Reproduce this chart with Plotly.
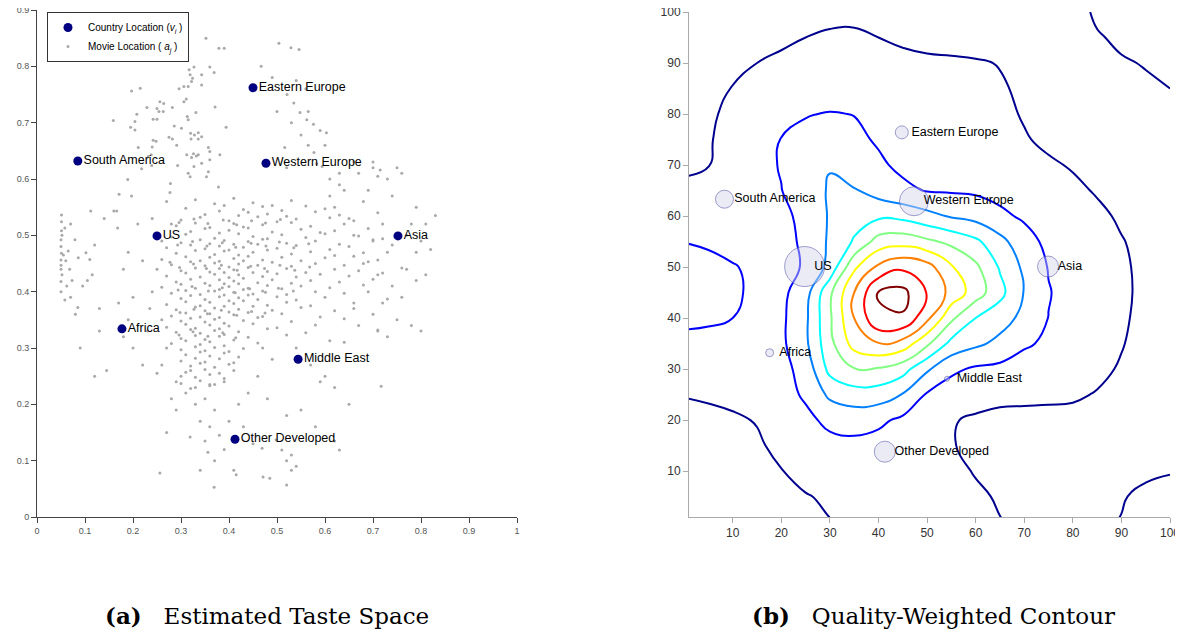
import plotly.graph_objects as go

# ---------------- Panel (a) data ----------------
country_names = ["Eastern Europe", "South America", "Western Europe", "US",
                 "Asia", "Africa", "Middle East", "Other Developed"]
country_x = [0.450, 0.085, 0.477, 0.250, 0.752, 0.177, 0.544, 0.4125]
country_y = [0.762, 0.632, 0.628, 0.499, 0.499, 0.334, 0.280, 0.138]

movie_points = [
    # upper-left arm
    (0.352, 0.850), (0.379, 0.832), (0.390, 0.832), (0.317, 0.794), (0.327, 0.799),
    (0.319, 0.785), (0.324, 0.779), (0.322, 0.773), (0.343, 0.785), (0.360, 0.799),
    (0.369, 0.789), (0.343, 0.767), (0.315, 0.764), (0.296, 0.760), (0.306, 0.764),
    (0.306, 0.737), (0.311, 0.742), (0.197, 0.756), (0.215, 0.761), (0.256, 0.737),
    (0.264, 0.734), (0.250, 0.725), (0.254, 0.720), (0.263, 0.720), (0.229, 0.727),
    (0.208, 0.715), (0.204, 0.702), (0.195, 0.692), (0.204, 0.687), (0.159, 0.704),
    (0.242, 0.706), (0.250, 0.706), (0.282, 0.727), (0.331, 0.718), (0.371, 0.728),
    (0.394, 0.692), (0.313, 0.711), (0.315, 0.705), (0.286, 0.694), (0.301, 0.690),
    (0.320, 0.681), (0.328, 0.678), (0.336, 0.682), (0.343, 0.675), (0.321, 0.671),
    (0.336, 0.671), (0.275, 0.674), (0.282, 0.671), (0.242, 0.669), (0.248, 0.667),
    (0.240, 0.657), (0.211, 0.656), (0.291, 0.660), (0.357, 0.656), (0.360, 0.649),
    (0.326, 0.645), (0.332, 0.641), (0.336, 0.643), (0.312, 0.643), (0.322, 0.638),
    (0.232, 0.640), (0.238, 0.643), (0.381, 0.643), (0.360, 0.634), (0.343, 0.628),
    (0.327, 0.622), (0.293, 0.624), (0.239, 0.624), (0.218, 0.618), (0.315, 0.610),
    (0.319, 0.604), (0.357, 0.613), (0.353, 0.604), (0.189, 0.599), (0.278, 0.592),
    (0.378, 0.586), (0.277, 0.576), (0.197, 0.570), (0.171, 0.573), (0.112, 0.543),
    (0.166, 0.543), (0.168, 0.513),
    # upper-right arm
    (0.504, 0.841), (0.529, 0.833), (0.546, 0.830), (0.467, 0.800), (0.540, 0.775),
    (0.521, 0.750), (0.535, 0.735), (0.548, 0.718), (0.565, 0.720), (0.562, 0.705),
    (0.576, 0.697), (0.590, 0.686), (0.603, 0.682), (0.550, 0.678), (0.565, 0.660),
    (0.516, 0.656), (0.577, 0.647), (0.594, 0.622), (0.583, 0.627), (0.610, 0.600),
    (0.700, 0.620), (0.710, 0.605), (0.660, 0.630), (0.530, 0.700), (0.500, 0.720),
    (0.560, 0.760), (0.490, 0.780), (0.520, 0.620), (0.600, 0.660), (0.630, 0.590),
    # left strip
    (0.051, 0.536), (0.051, 0.524), (0.051, 0.508), (0.052, 0.500), (0.050, 0.492),
    (0.050, 0.480), (0.051, 0.468), (0.050, 0.456), (0.050, 0.447), (0.050, 0.440),
    (0.052, 0.430), (0.050, 0.418), (0.050, 0.400), (0.055, 0.465), (0.060, 0.455),
    (0.058, 0.513), (0.065, 0.472), (0.070, 0.520), (0.068, 0.440), (0.079, 0.492),
    (0.073, 0.420), (0.062, 0.410), (0.080, 0.360), (0.085, 0.372), (0.095, 0.410),
    (0.102, 0.469), (0.105, 0.420), (0.090, 0.300), (0.120, 0.250), (0.145, 0.260),
    (0.120, 0.483), (0.130, 0.370), (0.115, 0.430), (0.070, 0.390), (0.058, 0.385),
    (0.086, 0.460), (0.110, 0.457),
    # scattered left-centre
    (0.160, 0.543), (0.190, 0.470), (0.210, 0.520), (0.220, 0.455), (0.180, 0.440),
    (0.200, 0.390), (0.235, 0.370), (0.170, 0.380), (0.180, 0.320), (0.200, 0.300),
    (0.230, 0.330), (0.240, 0.400), (0.250, 0.440), (0.260, 0.350), (0.270, 0.300),
    (0.220, 0.270), (0.250, 0.255), (0.190, 0.350), (0.260, 0.490), (0.240, 0.530),
    (0.270, 0.560), (0.280, 0.520), (0.140, 0.530), (0.130, 0.330), (0.277, 0.452),
    # central cloud
    (0.33, 0.563), (0.37, 0.556), (0.41, 0.566), (0.45, 0.558), (0.49, 0.553), (0.53, 0.562),
    (0.31, 0.548), (0.39, 0.553), (0.43, 0.546), (0.47, 0.551), (0.51, 0.544), (0.56, 0.552),
    (0.60, 0.547),
    (0.35, 0.537), (0.38, 0.543), (0.42, 0.535), (0.44, 0.541), (0.48, 0.538), (0.52, 0.534),
    (0.58, 0.542), (0.63, 0.536),
    (0.30, 0.527), (0.34, 0.532), (0.40, 0.526), (0.46, 0.533), (0.50, 0.524), (0.54, 0.529),
    (0.61, 0.531), (0.66, 0.526),
    (0.29, 0.517), (0.33, 0.522), (0.36, 0.514), (0.41, 0.521), (0.43, 0.515), (0.47, 0.519),
    (0.53, 0.523), (0.57, 0.516), (0.64, 0.520),
    (0.32, 0.507), (0.35, 0.512), (0.38, 0.504), (0.40, 0.509), (0.44, 0.513), (0.49, 0.506),
    (0.55, 0.511), (0.59, 0.505), (0.62, 0.508), (0.69, 0.512),
    (0.28, 0.497), (0.31, 0.502), (0.37, 0.495), (0.42, 0.503), (0.45, 0.498), (0.48, 0.494),
    (0.51, 0.501), (0.56, 0.496), (0.60, 0.503), (0.67, 0.499), (0.72, 0.494),
    (0.30, 0.487), (0.34, 0.492), (0.36, 0.485), (0.39, 0.491), (0.41, 0.484), (0.44, 0.489),
    (0.47, 0.493), (0.52, 0.486), (0.58, 0.490), (0.63, 0.484), (0.70, 0.492),
    (0.27, 0.478), (0.32, 0.483), (0.35, 0.476), (0.38, 0.481), (0.40, 0.474), (0.43, 0.479),
    (0.46, 0.484), (0.50, 0.477), (0.54, 0.482), (0.61, 0.475), (0.65, 0.480), (0.74, 0.483),
    (0.29, 0.468), (0.33, 0.473), (0.37, 0.466), (0.39, 0.472), (0.42, 0.465), (0.45, 0.470),
    (0.48, 0.474), (0.53, 0.467), (0.57, 0.471), (0.62, 0.464), (0.68, 0.469),
    (0.26, 0.457), (0.31, 0.462), (0.34, 0.455), (0.36, 0.461), (0.38, 0.454), (0.41, 0.459),
    (0.44, 0.463), (0.47, 0.456), (0.51, 0.461), (0.55, 0.455), (0.60, 0.460), (0.66, 0.463),
    (0.71, 0.456),
    (0.28, 0.448), (0.32, 0.453), (0.35, 0.446), (0.37, 0.451), (0.40, 0.444), (0.42, 0.449),
    (0.43, 0.455), (0.46, 0.447), (0.49, 0.452), (0.53, 0.445), (0.58, 0.450), (0.64, 0.447),
    (0.69, 0.453),
    (0.30, 0.437), (0.33, 0.442), (0.36, 0.435), (0.38, 0.441), (0.39, 0.434), (0.41, 0.439),
    (0.44, 0.443), (0.48, 0.436), (0.52, 0.441), (0.56, 0.434), (0.62, 0.440), (0.67, 0.437),
    (0.76, 0.442),
    (0.27, 0.428), (0.31, 0.433), (0.34, 0.426), (0.37, 0.431), (0.40, 0.425), (0.42, 0.430),
    (0.45, 0.434), (0.47, 0.427), (0.50, 0.432), (0.54, 0.426), (0.59, 0.431), (0.65, 0.428),
    (0.72, 0.433),
    (0.29, 0.417), (0.32, 0.422), (0.35, 0.415), (0.38, 0.421), (0.39, 0.414), (0.41, 0.419),
    (0.43, 0.424), (0.46, 0.416), (0.49, 0.421), (0.53, 0.415), (0.57, 0.420), (0.63, 0.417),
    (0.70, 0.422),
    (0.26, 0.408), (0.30, 0.413), (0.33, 0.406), (0.36, 0.411), (0.38, 0.404), (0.40, 0.409),
    (0.42, 0.414), (0.44, 0.406), (0.48, 0.411), (0.51, 0.405), (0.55, 0.410), (0.61, 0.407),
    (0.68, 0.412),
    (0.28, 0.397), (0.31, 0.402), (0.34, 0.395), (0.37, 0.401), (0.39, 0.394), (0.41, 0.399),
    (0.43, 0.404), (0.45, 0.396), (0.47, 0.401), (0.52, 0.395), (0.58, 0.400), (0.64, 0.397),
    (0.30, 0.388), (0.32, 0.393), (0.35, 0.386), (0.38, 0.391), (0.40, 0.384), (0.42, 0.389),
    (0.44, 0.394), (0.46, 0.386), (0.50, 0.391), (0.54, 0.385), (0.60, 0.390), (0.73, 0.387),
    (0.27, 0.377), (0.31, 0.382), (0.34, 0.375), (0.36, 0.381), (0.39, 0.374), (0.41, 0.379),
    (0.43, 0.384), (0.48, 0.376), (0.52, 0.381), (0.57, 0.375), (0.66, 0.380),
    (0.29, 0.368), (0.33, 0.373), (0.35, 0.366), (0.37, 0.371), (0.40, 0.364), (0.42, 0.369),
    (0.45, 0.374), (0.49, 0.367), (0.55, 0.372), (0.62, 0.366),
    (0.28, 0.357), (0.31, 0.362), (0.34, 0.355), (0.36, 0.361), (0.38, 0.354), (0.41, 0.359),
    (0.44, 0.363), (0.47, 0.356), (0.51, 0.361), (0.59, 0.355), (0.70, 0.360),
    (0.30, 0.348), (0.32, 0.353), (0.35, 0.346), (0.37, 0.351), (0.39, 0.344), (0.43, 0.349),
    (0.46, 0.354), (0.53, 0.347), (0.64, 0.352),
    (0.27, 0.337), (0.31, 0.342), (0.33, 0.335), (0.36, 0.341), (0.38, 0.334), (0.40, 0.339),
    (0.45, 0.343), (0.50, 0.336), (0.58, 0.341),
    (0.29, 0.328), (0.32, 0.333), (0.34, 0.326), (0.37, 0.331), (0.39, 0.324), (0.42, 0.329),
    (0.48, 0.334), (0.56, 0.327), (0.71, 0.332),
    (0.30, 0.317), (0.33, 0.322), (0.35, 0.315), (0.38, 0.321), (0.41, 0.314), (0.44, 0.319),
    (0.52, 0.323),
    (0.28, 0.308), (0.31, 0.313), (0.34, 0.306), (0.36, 0.311), (0.39, 0.304), (0.46, 0.309),
    (0.61, 0.313),
    (0.30, 0.297), (0.33, 0.302), (0.35, 0.295), (0.37, 0.301), (0.40, 0.294), (0.43, 0.299),
    (0.31, 0.288), (0.34, 0.293), (0.36, 0.286), (0.39, 0.291), (0.42, 0.284),
    (0.30, 0.277), (0.33, 0.282), (0.35, 0.275), (0.38, 0.281), (0.41, 0.274),
    (0.32, 0.268), (0.34, 0.273), (0.37, 0.266), (0.40, 0.271),
    (0.31, 0.257), (0.35, 0.262), (0.38, 0.255),
    (0.33, 0.248), (0.36, 0.253), (0.39, 0.246),
    (0.30, 0.237), (0.34, 0.242), (0.37, 0.235),
    (0.32, 0.228), (0.36, 0.233),
    # extra points in the dense core
    (0.296, 0.523), (0.327, 0.529), (0.356, 0.521), (0.388, 0.527), (0.416, 0.519), (0.447, 0.526),
    (0.476, 0.522), (0.507, 0.528),
    (0.293, 0.483), (0.324, 0.489), (0.354, 0.481), (0.386, 0.487), (0.414, 0.479), (0.446, 0.486),
    (0.477, 0.481), (0.505, 0.488), (0.535, 0.478), (0.566, 0.485),
    (0.297, 0.443), (0.326, 0.449), (0.353, 0.441), (0.384, 0.447), (0.417, 0.438), (0.445, 0.445),
    (0.474, 0.441), (0.506, 0.447), (0.537, 0.438), (0.568, 0.444),
    (0.294, 0.403), (0.323, 0.409), (0.357, 0.401), (0.386, 0.407), (0.413, 0.398), (0.443, 0.405),
    (0.476, 0.399), (0.503, 0.406), (0.534, 0.401),
    (0.298, 0.363), (0.327, 0.369), (0.355, 0.361), (0.384, 0.367), (0.416, 0.358), (0.447, 0.365),
    (0.475, 0.362),
    (0.296, 0.323), (0.325, 0.329), (0.356, 0.321), (0.387, 0.327), (0.414, 0.318),
    # right side
    (0.62, 0.550), (0.65, 0.530), (0.68, 0.560), (0.71, 0.540), (0.74, 0.570), (0.66, 0.500),
    (0.70, 0.490), (0.73, 0.470), (0.77, 0.500), (0.79, 0.470), (0.80, 0.490), (0.82, 0.475),
    (0.81, 0.520), (0.83, 0.535), (0.79, 0.550), (0.76, 0.610), (0.73, 0.600), (0.75, 0.620),
    (0.715, 0.616), (0.70, 0.630), (0.68, 0.450), (0.71, 0.430), (0.74, 0.410), (0.77, 0.440),
    (0.72, 0.380), (0.69, 0.400), (0.75, 0.350), (0.78, 0.340), (0.80, 0.330), (0.73, 0.320),
    (0.71, 0.330), (0.67, 0.340), (0.64, 0.310), (0.66, 0.370), (0.76, 0.390), (0.79, 0.420),
    (0.81, 0.430), (0.78, 0.520), (0.72, 0.520), (0.69, 0.580), (0.64, 0.580), (0.61, 0.570),
    (0.67, 0.610), (0.63, 0.610),
    # lower tail
    (0.290, 0.190), (0.319, 0.142), (0.356, 0.115), (0.369, 0.053), (0.340, 0.083),
    (0.256, 0.078), (0.410, 0.083), (0.415, 0.075), (0.471, 0.071), (0.485, 0.069),
    (0.520, 0.057), (0.530, 0.083), (0.540, 0.090), (0.510, 0.119), (0.469, 0.122),
    (0.498, 0.137), (0.630, 0.119), (0.620, 0.135), (0.280, 0.210), (0.300, 0.250),
    (0.310, 0.220), (0.330, 0.200), (0.350, 0.210), (0.370, 0.190), (0.340, 0.170),
    (0.360, 0.160), (0.380, 0.145), (0.390, 0.120), (0.370, 0.100), (0.350, 0.135),
    (0.400, 0.170), (0.420, 0.200), (0.440, 0.220), (0.430, 0.160), (0.450, 0.130),
    (0.330, 0.230), (0.360, 0.235), (0.390, 0.240), (0.410, 0.260), (0.290, 0.240),
    (0.320, 0.260), (0.270, 0.150), (0.260, 0.270), (0.460, 0.250), (0.480, 0.210),
    (0.550, 0.190), (0.580, 0.160), (0.600, 0.250), (0.620, 0.230), (0.570, 0.270),
    (0.650, 0.200), (0.717, 0.232), (0.590, 0.240), (0.530, 0.110), (0.520, 0.100),
    (0.520, 0.180), (0.490, 0.280), (0.540, 0.300), (0.470, 0.300),
]
movie_x = [p[0] for p in movie_points]
movie_y = [p[1] for p in movie_points]

# ---------------- Panel (b) data ----------------
grid_x = list(range(0, 101, 5))
grid_y = list(range(0, 101, 5))
density_z = [
    [0.40, 0.45, 0.50, 0.60, 0.72, 0.85, 0.98, 1.08, 1.12, 1.12, 1.10, 1.07, 1.04, 1.01, 0.96, 0.92, 0.93, 0.96, 1.01, 1.10, 1.15],
    [0.45, 0.50, 0.58, 0.70, 0.83, 0.96, 1.10, 1.20, 1.22, 1.20, 1.15, 1.10, 1.05, 0.97, 0.90, 0.87, 0.88, 0.92, 0.98, 1.06, 1.12],
    [0.55, 0.60, 0.68, 0.82, 0.98, 1.22, 1.40, 1.45, 1.42, 1.32, 1.20, 1.08, 0.98, 0.88, 0.82, 0.80, 0.80, 0.85, 0.90, 0.95, 0.98],
    [0.65, 0.70, 0.78, 0.92, 1.15, 1.45, 1.70, 1.75, 1.65, 1.45, 1.25, 1.03, 0.88, 0.80, 0.75, 0.75, 0.75, 0.78, 0.82, 0.85, 0.85],
    [0.78, 0.85, 0.92, 1.03, 1.30, 1.75, 2.25, 2.40, 2.20, 1.80, 1.35, 1.05, 0.90, 0.85, 0.85, 0.85, 0.85, 0.82, 0.80, 0.75, 0.70],
    [1.03, 1.08, 1.15, 1.30, 1.60, 2.15, 3.20, 3.55, 3.50, 2.95, 1.90, 1.50, 1.30, 1.15, 1.12, 1.10, 1.07, 0.97, 0.85, 0.72, 0.62],
    [1.45, 1.50, 1.50, 1.50, 1.70, 2.35, 4.30, 4.95, 4.90, 4.40, 3.15, 2.20, 1.85, 1.75, 1.60, 1.45, 1.30, 1.12, 0.95, 0.78, 0.68],
    [1.75, 1.80, 1.75, 1.60, 1.80, 2.80, 4.70, 6.40, 6.95, 6.60, 5.20, 3.70, 3.20, 2.75, 2.12, 1.85, 1.55, 1.30, 1.03, 0.82, 0.70],
    [2.20, 2.10, 2.00, 1.70, 1.80, 2.80, 4.85, 7.00, 8.90, 8.90, 7.25, 5.20, 4.00, 3.40, 2.75, 1.98, 1.65, 1.35, 1.08, 0.85, 0.72],
    [2.45, 2.35, 2.15, 1.80, 1.75, 2.60, 4.80, 7.00, 9.05, 9.30, 7.95, 6.70, 5.50, 4.30, 2.95, 2.05, 1.65, 1.35, 1.10, 0.88, 0.75],
    [2.40, 2.30, 2.08, 1.75, 1.62, 2.12, 3.30, 5.80, 7.20, 7.80, 7.40, 6.10, 5.20, 3.90, 2.80, 1.95, 1.60, 1.35, 1.08, 0.88, 0.75],
    [1.98, 1.85, 1.60, 1.60, 1.65, 2.20, 3.15, 4.10, 5.40, 5.60, 5.20, 4.75, 4.20, 3.30, 2.40, 1.75, 1.50, 1.25, 1.03, 0.85, 0.72],
    [1.35, 1.45, 1.55, 1.70, 1.78, 2.25, 3.10, 3.60, 3.80, 3.70, 3.30, 2.90, 2.65, 2.20, 1.85, 1.60, 1.35, 1.12, 0.92, 0.80, 0.70],
    [1.10, 1.20, 1.45, 1.70, 1.98, 2.50, 3.10, 3.05, 2.60, 2.20, 1.95, 1.90, 1.85, 1.70, 1.50, 1.30, 1.12, 0.95, 0.85, 0.75, 0.65],
    [0.92, 0.98, 1.35, 1.75, 2.05, 2.50, 2.95, 2.70, 2.15, 1.80, 1.65, 1.55, 1.45, 1.35, 1.20, 1.08, 0.95, 0.85, 0.75, 0.70, 0.65],
    [0.75, 0.93, 1.30, 1.70, 2.02, 2.25, 2.35, 2.20, 1.90, 1.70, 1.60, 1.50, 1.40, 1.25, 1.05, 0.88, 0.78, 0.72, 0.70, 0.68, 0.68],
    [0.70, 0.90, 1.15, 1.45, 1.75, 1.95, 2.05, 1.98, 1.85, 1.75, 1.65, 1.55, 1.40, 1.15, 0.95, 0.82, 0.75, 0.72, 0.72, 0.75, 0.78],
    [0.65, 0.85, 1.02, 1.20, 1.35, 1.45, 1.50, 1.50, 1.45, 1.40, 1.35, 1.30, 1.20, 1.05, 0.92, 0.85, 0.80, 0.80, 0.85, 0.92, 1.00],
    [0.55, 0.70, 0.85, 1.00, 1.10, 1.20, 1.25, 1.25, 1.20, 1.15, 1.12, 1.10, 1.05, 0.98, 0.90, 0.85, 0.85, 0.90, 0.95, 1.03, 1.08],
    [0.50, 0.60, 0.70, 0.80, 0.90, 1.00, 1.05, 1.05, 1.00, 0.90, 0.80, 0.75, 0.75, 0.70, 0.70, 0.75, 0.80, 0.95, 1.10, 1.20, 1.25],
    [0.40, 0.45, 0.55, 0.62, 0.72, 0.82, 0.90, 0.92, 0.88, 0.80, 0.72, 0.68, 0.65, 0.62, 0.62, 0.65, 0.75, 1.10, 1.20, 1.30, 1.30],
]
contour_colors = ["#00008f", "#0000ff", "#0080ff", "#00ffff", "#80ff80",
                  "#ffff00", "#ff8000", "#ff0000", "#800000"]

region_x = [44.8, 8.3, 47.3, 24.8, 74.9, 17.6, 54.1, 41.3]
region_y = [76.4, 63.3, 62.9, 50.1, 50.1, 33.2, 28.1, 13.8]
region_size = [13, 18, 29, 40, 21, 8, 5, 21]

# ---------------- Figure ----------------
fig = go.Figure()

fig.add_trace(go.Scatter(
    x=movie_x, y=movie_y, mode="markers", name="Movie Location ( <i>a<sub>j</sub></i> )",
    marker=dict(size=3, color="#a9a9a9"), legendrank=2,
    xaxis="x", yaxis="y"))
fig.add_trace(go.Scatter(
    x=country_x, y=country_y, mode="markers", name="Country Location (<i>v<sub>i</sub></i> )",
    marker=dict(size=9, color="#000080"), legendrank=1,
    xaxis="x", yaxis="y"))
fig.add_trace(go.Scatter(
    x=[v + 0.012 for v in country_x], y=country_y, mode="text", text=country_names,
    textposition="middle right", showlegend=False,
    textfont=dict(family="Liberation Sans, Arial", size=12.5, color="#000"),
    xaxis="x", yaxis="y", hoverinfo="skip"))

n = len(contour_colors)
cscale = [[i / (n - 1), c] for i, c in enumerate(contour_colors)]
fig.add_trace(go.Contour(
    x=grid_x, y=grid_y, z=density_z,
    contours=dict(coloring="lines", start=1, end=9, size=1, showlabels=False),
    colorscale=cscale, zmin=1, zmax=9, zauto=False, showscale=False,
    line=dict(width=2, smoothing=1.3),
    xaxis="x2", yaxis="y2", showlegend=False))
fig.add_trace(go.Scatter(
    x=region_x, y=region_y, mode="markers", showlegend=False,
    marker=dict(size=region_size, color="rgba(212,212,236,0.65)",
                line=dict(color="rgba(90,90,170,0.85)", width=1)),
    xaxis="x2", yaxis="y2"))
fig.add_trace(go.Scatter(
    x=[v + 2 for v in region_x], y=region_y, mode="text", text=country_names,
    textposition="middle right", showlegend=False,
    textfont=dict(family="Liberation Sans, Arial", size=12.5, color="#000"),
    xaxis="x2", yaxis="y2", hoverinfo="skip"))

# The page body adds an 8px offset; lay out in page pixels and subtract it.
OFF = 8
W, H = 1183 - OFF, 632 - OFF
ml = 37 - OFF
mt = 10 - OFF
plot_bottom = 517 - OFF
plot_right = 1170 - OFF
mb = H - plot_bottom
mr = W - plot_right
pw, ph = W - ml - mr, H - mt - mb

def px_x(p):
    return (p - OFF - ml) / pw

def px_y(p):
    return (plot_bottom - (p - OFF)) / ph

left_axis = dict(showline=True, linecolor="#444", linewidth=1, ticks="outside",
                 ticklen=5, tickcolor="#444", tickfont=dict(size=9, color="#555",
                 family="Liberation Sans, Arial"), showgrid=False, zeroline=False,
                 automargin=False, ticklabeloverflow="allow")
right_axis = dict(showline=True, linecolor="#aaa", linewidth=1, ticks="outside",
                  ticklen=5, tickcolor="#aaa", tickfont=dict(size=12, color="#333",
                  family="Liberation Sans, Arial"), showgrid=False, zeroline=False,
                  automargin=False, ticklabeloverflow="allow")

cap_font = dict(family="DejaVu Serif, Liberation Serif", size=23, color="#000")

fig.update_layout(
    width=W, height=H,
    margin=dict(l=ml, r=mr, t=mt, b=mb, autoexpand=False),
    paper_bgcolor="white", plot_bgcolor="white",
    xaxis=dict(domain=[0, px_x(517)], range=[0, 1], dtick=0.1, tick0=0, **left_axis),
    yaxis=dict(domain=[0, 1], range=[0, 0.9], dtick=0.1, tick0=0, **left_axis),
    xaxis2=dict(domain=[px_x(689), 1], range=[1, 100], anchor="y2",
                tickvals=list(range(10, 101, 10)), **right_axis),
    yaxis2=dict(domain=[0, px_y(12)], range=[1, 100], anchor="x2",
                tickvals=list(range(10, 101, 10)), **right_axis),
    legend=dict(x=px_x(47), y=px_y(12), xanchor="left", yanchor="top",
                bgcolor="white", bordercolor="#333", borderwidth=1,
                font=dict(size=10, family="Liberation Sans, Arial", color="#000"),
                itemsizing="trace", tracegroupgap=0),
    showlegend=True,
    annotations=[
        dict(text="<b>(a)</b>&nbsp;&nbsp;&nbsp;Estimated Taste Space", xref="paper", yref="paper",
             x=px_x(267), y=px_y(616), xanchor="center", yanchor="middle",
             showarrow=False, font=cap_font),
        dict(text="<b>(b)</b>&nbsp;&nbsp;&nbsp;Quality-Weighted Contour", xref="paper", yref="paper",
             x=px_x(933), y=px_y(616), xanchor="center", yanchor="middle",
             showarrow=False, font=cap_font),
    ],
)

fig.write_html("out.html")
